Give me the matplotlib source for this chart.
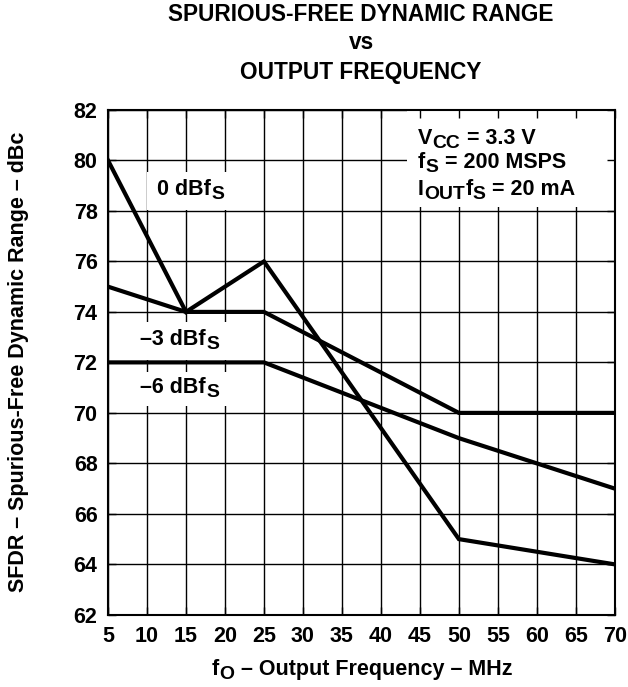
import matplotlib
matplotlib.use("Agg")
import matplotlib.pyplot as plt
from matplotlib.patches import Rectangle
from matplotlib.transforms import Bbox, IdentityTransform, offset_copy

plt.rcParams["font.family"] = ["Liberation Sans", "DejaVu Sans"]
plt.rcParams["font.weight"] = "bold"

# SFDR curves for three input levels
freq_0db = [5, 15, 25, 50, 70]
sfdr_0db = [80, 74, 76, 65, 64]
freq_3db = [5, 15, 25, 50, 70]
sfdr_3db = [75, 74, 74, 70, 70]
freq_6db = [5, 25, 50, 70]
sfdr_6db = [72, 72, 69, 67]

x_ticks = list(range(5, 71, 5))
y_ticks = list(range(62, 83, 2))

FS = 15.5
SUB_SCALE = 0.9
SUB_DROP = 0.2

fig = plt.figure(figsize=(6.28, 6.87), dpi=100)
ax = fig.add_axes([0.172, 0.105, 0.807, 0.735])
renderer = fig.canvas.get_renderer()


def rich_text(target, x, y, parts, transform, size=FS, ha="left",
              backdrop=None, zorder=3):
    """Write text made of (string, is_subscript) pieces, baseline at y."""
    widths = []
    for s, sub in parts:
        t = fig.text(0, 0, s, fontsize=size * SUB_SCALE if sub else size,
                     fontweight="bold")
        widths.append(t.get_window_extent(renderer).width)
        t.remove()
    dx = -sum(widths) / 2 if ha == "center" else 0.0
    texts = []
    for (s, sub), w in zip(parts, widths):
        fs = size * SUB_SCALE if sub else size
        dy = -SUB_DROP * size if sub else 0.0
        tr = offset_copy(transform, fig=fig, x=dx * 72 / fig.dpi, y=dy,
                         units="points")
        texts.append(target.text(x, y, s, transform=tr, fontsize=fs,
                                 fontweight="bold", color="black",
                                 va="baseline", zorder=zorder))
        dx += w + 0.5
    if backdrop is not None:
        # one white patch behind the whole label hides the grid
        bb = Bbox.union([t.get_window_extent(renderer) for t in texts])
        px, py = backdrop
        target.add_patch(Rectangle((bb.x0 - px, bb.y0 - py),
                                   bb.width + 2 * px, bb.height + 2 * py,
                                   transform=IdentityTransform(),
                                   facecolor="white", edgecolor="none",
                                   zorder=zorder - 0.5))


# grid drawn by hand so the condition box can sit between grid and ticks
for t in x_ticks:
    ax.axvline(t, color="black", lw=1.0, zorder=1)
for t in y_ticks:
    ax.axhline(t, color="black", lw=1.0, zorder=1)

for x, y in [(freq_0db, sfdr_0db), (freq_3db, sfdr_3db), (freq_6db, sfdr_6db)]:
    ax.plot(x, y, color="black", lw=3.0, solid_joinstyle="miter", zorder=3)

ax.set_xlim(5, 70)
ax.set_ylim(62, 82)
ax.set_xticks(x_ticks)
ax.set_yticks(y_ticks)
ax.tick_params(direction="in", length=6, width=1.0, labelsize=FS,
               top=True, right=True)
ax.tick_params(axis="x", pad=8)
ax.tick_params(axis="y", pad=7.5)
for lab in ax.get_xticklabels() + ax.get_yticklabels():
    lab.set_fontweight("bold")
for s in ax.spines.values():
    s.set_linewidth(1.5)
    s.set_zorder(4)

# axis titles
fig.text(0.029, 0.473, "SFDR – Spurious-Free Dynamic Range – dBc",
         rotation=90, ha="center", va="center", fontsize=FS, fontweight="bold")
rich_text(fig, 0.5755, 0.0175,
          [("f", False), ("O", True), (" – Output Frequency – MHz", False)],
          fig.transFigure, ha="center")

cx = 0.575
fig.text(cx, 0.979, "SPURIOUS-FREE DYNAMIC RANGE", ha="center", va="center",
         fontsize=16.3, fontweight="bold")
fig.text(cx, 0.938, "vs", ha="center", va="center",
         fontsize=16.3, fontweight="bold")
fig.text(cx, 0.894, "OUTPUT FREQUENCY", ha="center", va="center",
         fontsize=16.3, fontweight="bold")

# curve labels
rich_text(ax, 11.3, 78.63, [("0 dBf", False), ("S", True)], ax.transData,
          backdrop=(10, 7))
rich_text(ax, 9.1, 72.69, [("–3 dBf", False), ("S", True)], ax.transData,
          backdrop=(8, 7))
rich_text(ax, 9.1, 70.79, [("–6 dBf", False), ("S", True)], ax.transData,
          backdrop=(8, 5))

# operating conditions
ax.add_patch(Rectangle((43.4, 78.15), 70 - 43.4, 82 - 78.15,
                       facecolor="white", edgecolor="none", zorder=1.5))
rich_text(ax, 44.7, 80.65, [("V", False), ("CC", True), (" = 3.3 V", False)],
          ax.transData)
rich_text(ax, 44.7, 79.70, [("f", False), ("S", True), (" = 200 MSPS", False)],
          ax.transData)
rich_text(ax, 44.7, 78.63, [("I", False), ("OUT", True), ("f", False),
                            ("S", True), (" = 20 mA", False)], ax.transData)

fig.savefig("out.png", dpi=100)
